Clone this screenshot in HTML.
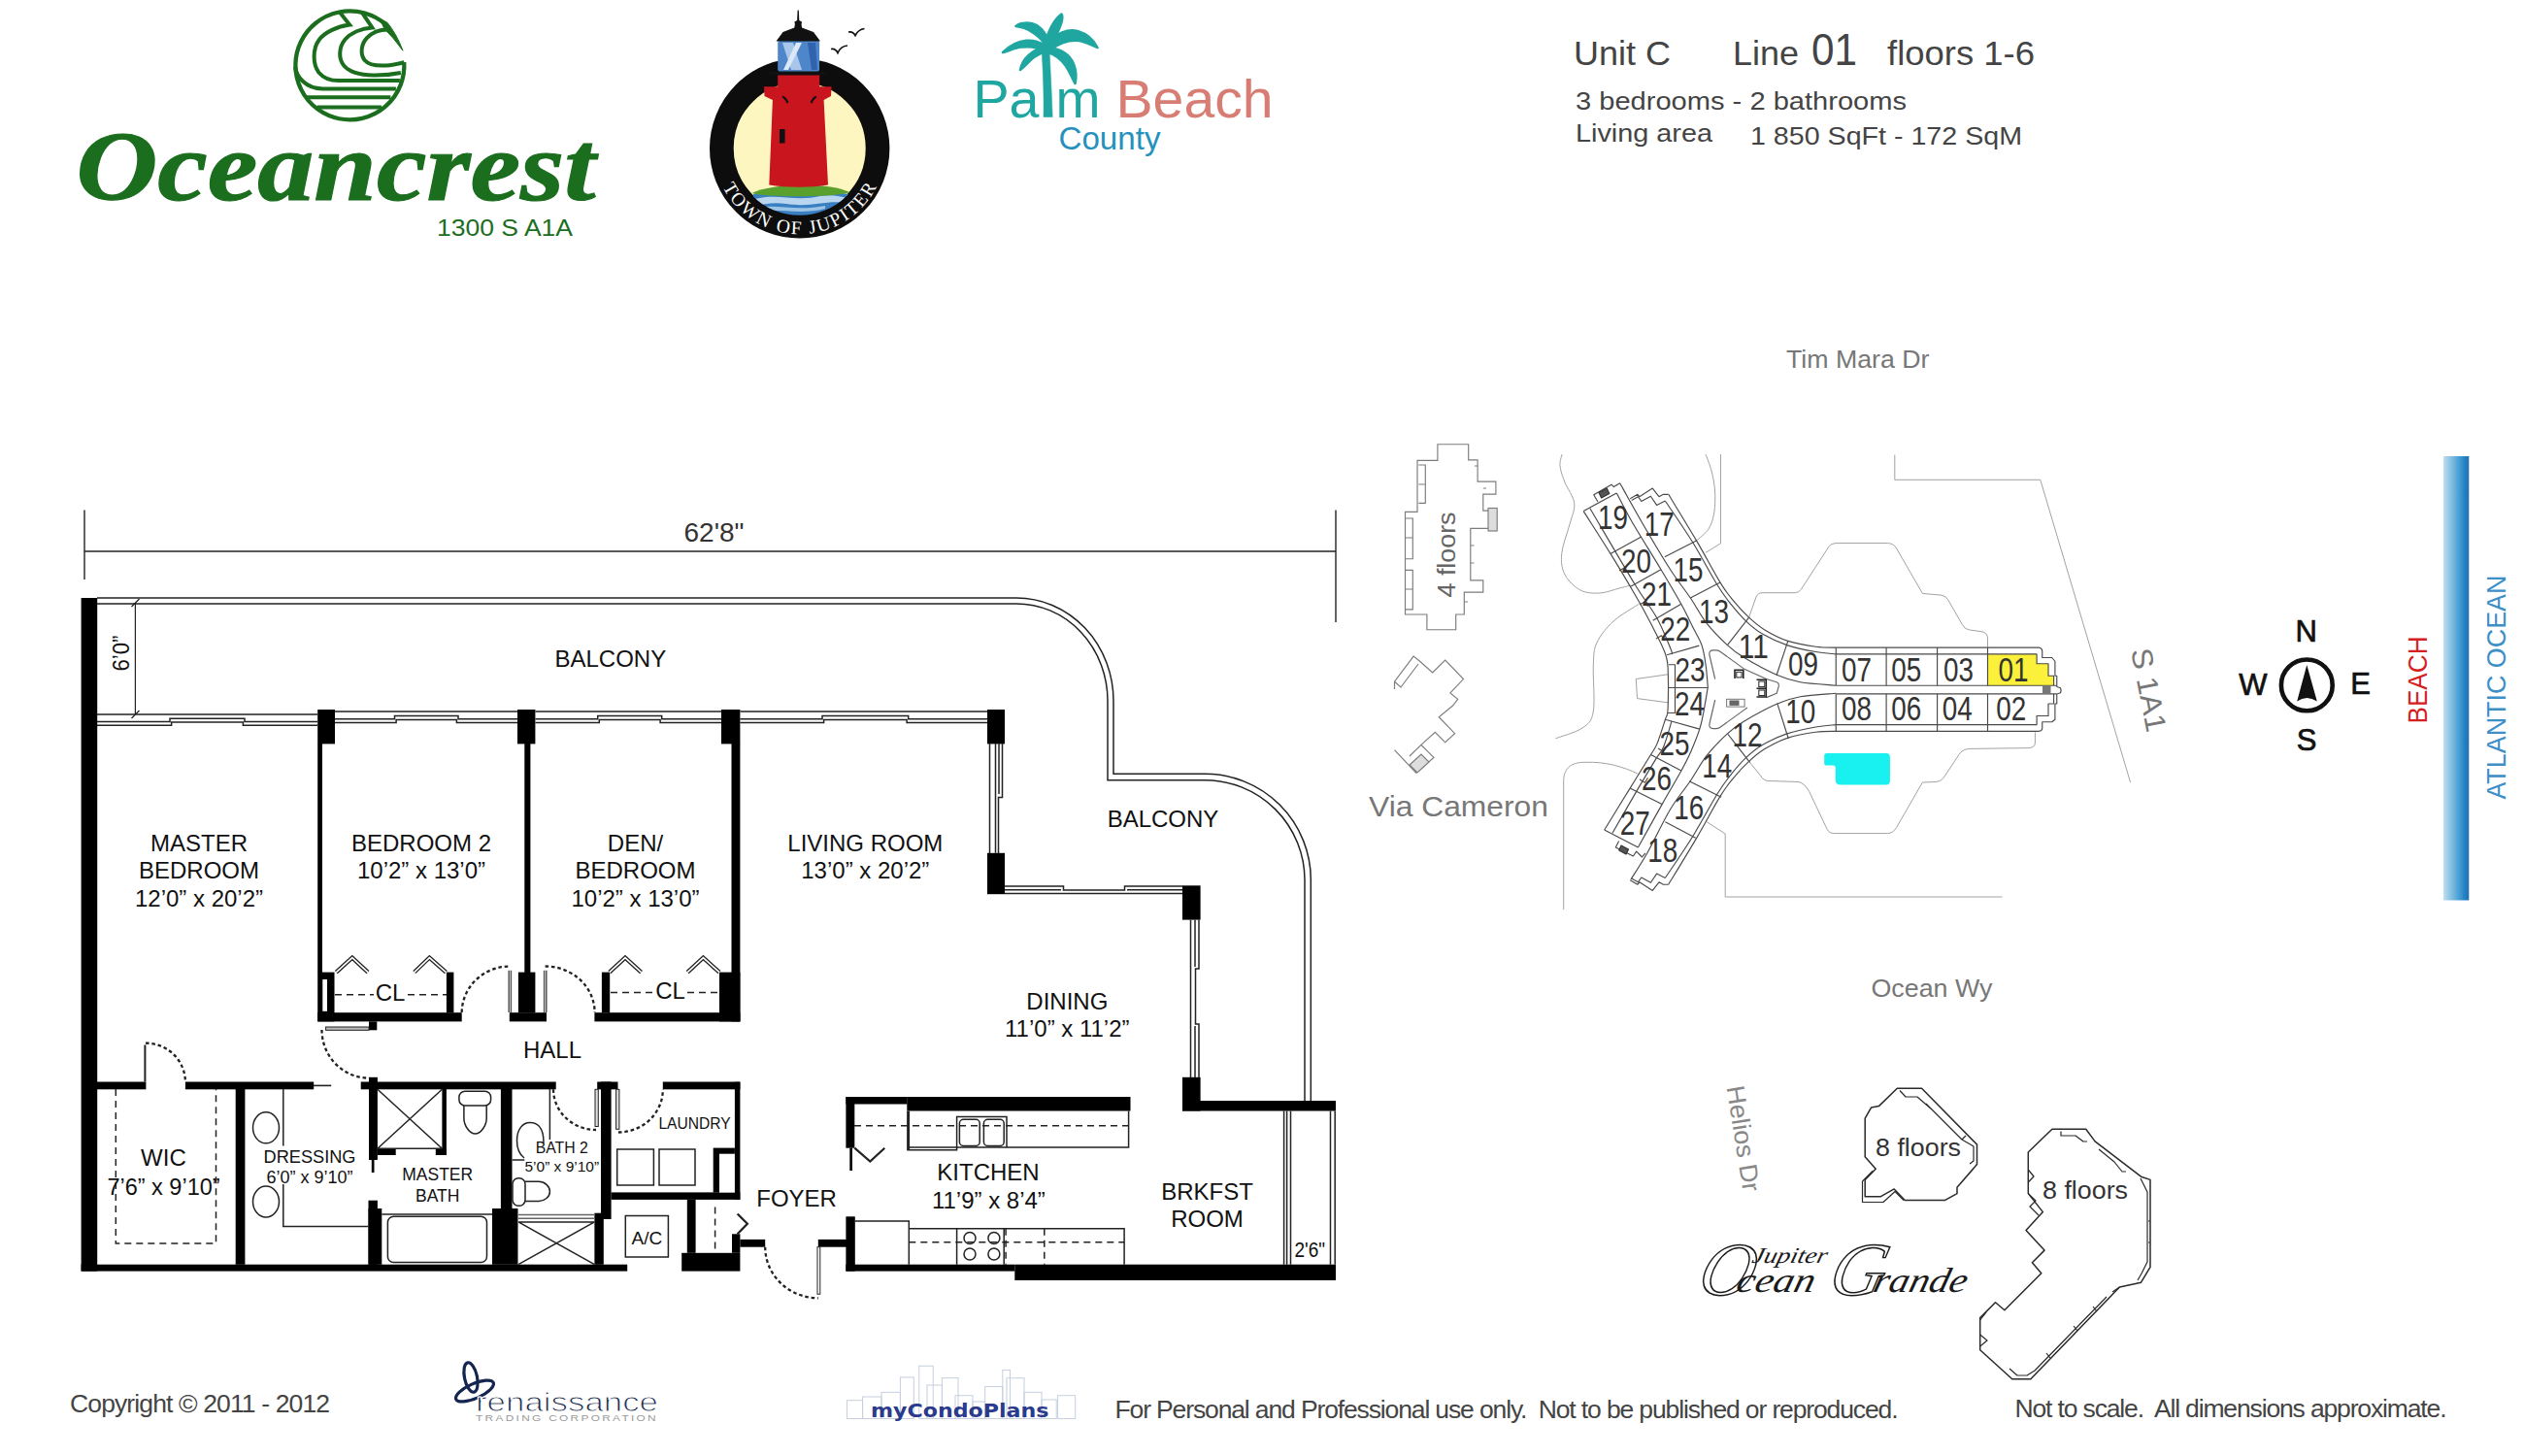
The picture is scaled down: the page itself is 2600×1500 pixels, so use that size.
<!DOCTYPE html>
<html><head><meta charset="utf-8"><title>Oceancrest Unit C Line 01</title>
<style>html,body{margin:0;padding:0;background:#fff}svg{display:block}text{white-space:pre}</style>
</head><body>
<svg width="2600" height="1500" viewBox="0 0 2600 1500">
<rect width="2600" height="1500" fill="#fff"/>

<g id="oc-logo" transform="translate(-1.6,-1.3)" fill="none" stroke="#1b6e1e" stroke-width="4" stroke-linejoin="miter" stroke-miterlimit="8">
  <path d="M417.9,65.5A56,56 0 1 1 398.5,26.2" stroke-width="4.3"/>
  <path d="M393,20.5L400.5,24.5Q410,36 416.6,53.5Q407,40 397.5,31Z" fill="#1b6e1e" stroke-width="1"/>
  <path d="M305.6,70C307,80 316,92.7 334,92.7H409.5"/>
  <path d="M316,101.5H404 M328.5,111.7H394.5"/>
  <path d="M351.5,13.8L361.8,26.9C348,28.5 336,35 330.5,42C323,52 324,68 330,76C336,83 343,84.4 350,84.4H413.5"/>
  <path d="M374,13.5L385,29.7C374,30.5 363,35 357,42C350.5,50 350,62 356,69C362,76 372,78.5 386,78.8C398,79 406,78 414.5,76.3"/>
  <path d="M402.5,31.8C394,31.5 385,34.5 379.5,40.5C373.5,47 372.5,57 377,63C381.5,68.5 390,69.3 399,68.8C406,68.4 412,67 418,65.5"/>
</g>
<text x="78.5" y="206" font-family="'Liberation Serif',serif" font-weight="bold" font-style="italic" font-size="102" fill="#1b6e1e" stroke="#1b6e1e" stroke-width="1.2" textLength="535" lengthAdjust="spacingAndGlyphs">Oceancrest</text>
<text x="450" y="242.5" font-family="'Liberation Sans',sans-serif" font-size="24.5" fill="#1b6e1e" textLength="140" lengthAdjust="spacingAndGlyphs">1300 S A1A</text>

<g id="jupiter">
  <circle cx="823.7" cy="152.8" r="80.35" fill="#fdf6c0" stroke="#0d0d0d" stroke-width="24.7"/>
  <clipPath id="jclip"><circle cx="823.7" cy="152.8" r="69"/></clipPath>
  <g clip-path="url(#jclip)">
    <path d="M776,200C800,196 850,196 874,200L874,232L776,232Z" fill="#3a7fc2"/>
    <path d="M778,205C800,199 820,208 845,202C856,200 866,202 872,204L872,209C850,206 835,214 810,210C798,208 786,210 778,212Z" fill="#b9d6ee"/>
    <path d="M782,214C800,210 820,218 850,212L850,215C825,222 800,214 782,218Z" fill="#9cc4e6"/>
    <path d="M774.5,199C795,189 850,187 875.4,198C865,203 790,204 774.5,199Z" fill="#5aa02c"/>
  </g>
  <path d="M787,89.3L856.6,89.3L856,99L848.6,103L853,190.5C835,193.5 810,193.5 792.3,190.5L795.9,103L787.5,99Z" fill="#c9151e"/>
  <rect x="801.2" y="76" width="43" height="14" fill="#c9151e"/>
  <path d="M792.3,73.6H852.1V77.6H792.3Z" fill="#111"/>
  <rect x="801.2" y="42" width="42.9" height="31.5" rx="2" fill="#4f86c9"/>
  <path d="M806,44L817,44L826,72L815,72Z" fill="#a8c6ea"/><path d="M820,44L826,44L812,72L807,72Z" fill="#dbe8f7"/>
  <path d="M832,44L840,44L842,72L836,72Z" fill="#2f63ad"/>
  <path d="M799.5,42.5L845,42.5L838,33L826,28.5Q825,25 826,22.5L823.3,21L822.8,10.5L821.6,10.5L821.1,21L818.4,22.5Q819.5,25 818.3,28.5L806.5,33Z" fill="#111"/>
  <rect x="803" y="133" width="5.6" height="14.5" fill="#111"/>
  <path d="M806,99.5q3,1 5.5,6.5 M841,99.5q-3,1 -5.5,6.5" stroke="#111" stroke-width="2.2" fill="none"/>
  <path d="M856,50.5q4.5,-1 7,4q3,-7 10,-7.5 M874,33q4.500,-1 7,3.500q3,-6 9.500,-7" stroke="#111" stroke-width="1.7" fill="none"/>
  <path id="jarc" d="M742.2,187.4A88.5,88.5 0 0 0 905.2,187.4" fill="none"/>
  <text font-family="'Liberation Serif',serif" font-size="19.5" fill="#fff"><textPath href="#jarc" startOffset="50%" text-anchor="middle" textLength="196" lengthAdjust="spacing">TOWN OF JUPITER</textPath></text>
</g>

<g id="palm">
  <text x="1002.5" y="120.5" font-family="'Liberation Sans',sans-serif" font-size="56" fill="#1fa6a0" textLength="68" lengthAdjust="spacingAndGlyphs">Pa</text>
  <text x="1087.5" y="120.5" font-family="'Liberation Sans',sans-serif" font-size="56" fill="#1fa6a0" textLength="46" lengthAdjust="spacingAndGlyphs">m</text>
  <text x="1149.5" y="120.5" font-family="'Liberation Sans',sans-serif" font-size="56" fill="#d87d74" textLength="162" lengthAdjust="spacingAndGlyphs">Beach</text>
  <text x="1090.5" y="154.3" font-family="'Liberation Sans',sans-serif" font-size="33.5" fill="#2591bd" textLength="105" lengthAdjust="spacingAndGlyphs">County</text>
  <g fill="#1fa6a0" stroke="#1fa6a0" stroke-width="2.6" stroke-linejoin="round">
    <path stroke-width="0.5" d="M1075,120.5C1075.5,100 1074.5,70 1072.5,44L1080.5,42C1082,70 1083.5,100 1084.2,120.5Z"/>
    <path d="M1076,46C1080,32 1086,20 1093.5,14.5C1096,18 1092,30 1082,47Z"/>
    <path d="M1077,46C1070,36 1058,28 1046.5,27C1050,23 1062,22.5 1068,26C1074,30 1079,38 1081,45Z"/>
    <path d="M1076,47C1066,40 1050,38 1033,54C1040,52 1046,49 1052,48.5C1060,47.5 1068,48 1077,52Z"/>
    <path d="M1075,48C1064,52 1053,60 1051,72C1056,68 1060,63 1065,59C1069,56 1073,54 1078,53Z"/>
    <path d="M1079,45C1088,34 1100,29.5 1110,32C1120,35 1127,42 1130.5,49C1124,46 1118,43 1112,42C1102,40.5 1092,44 1082,51Z"/>
    <path d="M1080,49C1092,50 1102,56 1106,66C1109,74 1109,80 1107.5,86C1104,80 1102,74 1098,68C1093,61 1087,56 1079,54Z"/>
  </g>
</g>

<g fill="#444" font-family="'Liberation Sans',sans-serif">
  <text x="1621" y="66.5" font-size="35.5" textLength="100" lengthAdjust="spacingAndGlyphs">Unit C</text>
  <text x="1785" y="66.5" font-size="35.5" textLength="68" lengthAdjust="spacingAndGlyphs">Line</text>
  <text x="1866" y="67" font-size="45.5" textLength="47" lengthAdjust="spacingAndGlyphs">01</text>
  <text x="1944" y="66.5" font-size="35.5" textLength="152" lengthAdjust="spacingAndGlyphs">floors 1-6</text>
  <text x="1623" y="113" font-size="26.5" textLength="341" lengthAdjust="spacingAndGlyphs">3 bedrooms - 2 bathrooms</text>
  <text x="1623" y="146" font-size="26.5" textLength="141" lengthAdjust="spacingAndGlyphs">Living area</text>
  <text x="1803" y="149" font-size="26.5" textLength="280" lengthAdjust="spacingAndGlyphs">1 850 SqFt - 172 SqM</text>
</g>
<g id="walls">
<rect x="83.6" y="616.0" width="16.6" height="693.6" fill="#000"/>
<rect x="83.6" y="1302.7" width="562.6" height="6.9" fill="#000"/>
<rect x="100.0" y="1114.5" width="50.4" height="7.8" fill="#000"/>
<rect x="190.9" y="1114.5" width="132.3" height="7.8" fill="#000"/>
<rect x="371.7" y="1114.5" width="201.0" height="7.8" fill="#000"/>
<rect x="615.2" y="1114.5" width="21.3" height="7.8" fill="#000"/>
<rect x="682.8" y="1114.5" width="79.6" height="7.8" fill="#000"/>
<rect x="327.2" y="731.0" width="17.8" height="35.4" fill="#000"/>
<rect x="533.0" y="731.0" width="18.4" height="35.4" fill="#000"/>
<rect x="743.0" y="731.0" width="19.4" height="35.4" fill="#000"/>
<rect x="1017.0" y="731.0" width="18.0" height="35.4" fill="#000"/>
<rect x="1017.0" y="878.8" width="18.0" height="42.4" fill="#000"/>
<rect x="1218.0" y="912.3" width="18.6" height="35.3" fill="#000"/>
<rect x="1218.0" y="1109.8" width="18.6" height="34.7" fill="#000"/>
<rect x="327.2" y="766.0" width="4.8" height="236.0" fill="#000"/>
<rect x="540.3" y="766.0" width="6.1" height="236.0" fill="#000"/>
<rect x="753.5" y="766.0" width="8.9" height="286.4" fill="#000"/>
<rect x="327.2" y="1001.6" width="17.3" height="50.8" fill="#000"/>
<rect x="327.2" y="1043.2" width="148.5" height="9.2" fill="#000"/>
<rect x="459.9" y="1001.6" width="7.5" height="41.8" fill="#000"/>
<rect x="533.9" y="1001.6" width="17.5" height="41.8" fill="#000"/>
<rect x="524.8" y="1043.2" width="38.2" height="9.2" fill="#000"/>
<rect x="619.9" y="1001.6" width="8.3" height="41.8" fill="#000"/>
<rect x="612.4" y="1043.2" width="150.0" height="9.2" fill="#000"/>
<rect x="741.0" y="1001.6" width="21.4" height="50.8" fill="#000"/>
<rect x="380.0" y="1052.4" width="8.3" height="8.9" fill="#000"/>
<rect x="380.0" y="1109.8" width="8.9" height="85.2" fill="#000"/>
<rect x="382.8" y="1195.0" width="2.7" height="13.0" fill="#000"/>
<rect x="379.5" y="1236.7" width="9.4" height="66.1" fill="#000"/>
<rect x="379.5" y="1245.0" width="13.8" height="57.8" fill="#000"/>
<rect x="242.7" y="1122.0" width="9.7" height="180.8" fill="#000"/>
<rect x="455.4" y="1122.0" width="4.5" height="68.0" fill="#000"/>
<rect x="388.9" y="1183.0" width="18.8" height="7.0" fill="#000"/>
<rect x="448.8" y="1183.0" width="11.1" height="7.0" fill="#000"/>
<rect x="515.9" y="1122.0" width="11.6" height="123.2" fill="#000"/>
<rect x="507.0" y="1245.0" width="26.5" height="57.8" fill="#000"/>
<rect x="619.0" y="1114.5" width="10.6" height="141.5" fill="#000"/>
<rect x="612.4" y="1249.7" width="9.4" height="53.1" fill="#000"/>
<rect x="756.9" y="1114.7" width="5.5" height="121.2" fill="#000"/>
<rect x="629.6" y="1228.4" width="132.8" height="7.5" fill="#000"/>
<rect x="734.7" y="1182.6" width="22.2" height="46.0" fill="#000"/>
<rect x="707.8" y="1236.0" width="8.8" height="54.8" fill="#000"/>
<rect x="702.2" y="1290.8" width="60.2" height="18.8" fill="#000"/>
<rect x="754.0" y="1271.3" width="8.4" height="19.5" fill="#000"/>
<rect x="762.4" y="1276.9" width="25.8" height="7.8" fill="#000"/>
<rect x="842.8" y="1276.9" width="29.2" height="7.8" fill="#000"/>
<rect x="871.4" y="1253.3" width="9.4" height="56.3" fill="#000"/>
<rect x="871.4" y="1302.7" width="173.9" height="6.9" fill="#000"/>
<rect x="1045.3" y="1302.7" width="330.7" height="16.3" fill="#000"/>
<rect x="871.4" y="1130.0" width="63.1" height="7.5" fill="#000"/>
<rect x="934.3" y="1130.0" width="230.2" height="14.5" fill="#000"/>
<rect x="871.4" y="1130.0" width="8.9" height="52.7" fill="#000"/>
<rect x="875.3" y="1182.7" width="2.7" height="23.3" fill="#000"/>
<rect x="1218.0" y="1134.0" width="158.0" height="10.5" fill="#000"/>
<rect x="332.3" y="1009.0" width="4.7" height="32.8" fill="#fff"/>
<rect x="741.0" y="1188.7" width="15.9" height="39.9" fill="#fff"/>
</g>
<g id="lines" fill="none" stroke="#222" stroke-width="1.5">
<path d="M87,525.5V597 M1376,525.5V641 M87,568H1376" stroke-width="1.4"/>
<path d="M100,616H1047A100,106 0 0 1 1147,722V797.3H1241A109,109 0 0 1 1350.3,906V1134"/>
<path d="M100,621.9H1047A94,100 0 0 1 1141,722V803.7H1241A103,103 0 0 1 1344,906V1134"/>
<path d="M139.4,621V736 M135.5,625l8,-8 M135.5,740l8,-8" stroke-width="1.2"/>
<path d="M100,736H327 M345,733H533 M551.4,733H743 M762.4,733H1017"/>
<path d="M100,743.5H175V740.3H252V743.5H327"/><path d="M100,747.3H176.6V744.1H250.4V747.3H327"/>
<path d="M345,740.8H406.5V737.5999999999999H472V740.8H533"/><path d="M345,744.5999999999999H408.1V741.4H470.4V744.5999999999999H533"/>
<path d="M551.4,740.8H615.7V737.5999999999999H681.7V740.8H743"/><path d="M551.4,744.5999999999999H617.3000000000001V741.4H680.1V744.5999999999999H743"/>
<path d="M762.4,740.8H847V737.5999999999999H935.7V740.8H1017"/><path d="M762.4,744.5999999999999H848.6V741.4H934.1V744.5999999999999H1017"/>
<path d="M1019.5,766V879 M1025.5,766V878.8"/>
<path d="M1032.5,766V821.5H1028.5V879"/><path d="M1029,766V818"/>
<path d="M1035,920.6H1218 M1035,913H1095.5V917H1158.5V913H1218 M1035,916.8H1093 M1161,916.8H1218"/>
<path d="M1226.5,947.6V1110 M1235,947.6V998H1231.5V1055H1235V1110 M1231,947.6V996 M1231,1057V1110"/>
<path d="M1322.6,1144.5V1302.7 M1325.6,1144.5V1302.7 M1329.5,1144.5V1302.7 M1370.5,1144.5V1302.7 M1375.2,1144.5V1302.7"/>
<path d="M346.3,1001.6L362.8,986.6L379,1001.6" stroke-width="4.2" stroke-linejoin="miter"/><path d="M346.3,1001.6L362.8,986.6L379,1001.6" stroke-width="1.6" stroke="#fff" stroke-linejoin="miter"/>
<path d="M426.8,1001.6L442.4,986.6L459.4,1001.6" stroke-width="4.2" stroke-linejoin="miter"/><path d="M426.8,1001.6L442.4,986.6L459.4,1001.6" stroke-width="1.6" stroke="#fff" stroke-linejoin="miter"/>
<path d="M627.8,1001.6L644,986.6L660.5,1001.6" stroke-width="4.2" stroke-linejoin="miter"/><path d="M627.8,1001.6L644,986.6L660.5,1001.6" stroke-width="1.6" stroke="#fff" stroke-linejoin="miter"/>
<path d="M708.2,1001.6L724.4,986.6L741,1001.6" stroke-width="4.2" stroke-linejoin="miter"/><path d="M708.2,1001.6L724.4,986.6L741,1001.6" stroke-width="1.6" stroke="#fff" stroke-linejoin="miter"/>
<path d="M345,1024.7H385 M420,1024.7H460" stroke-dasharray="7,5"/>
<path d="M629,1022.4H672 M708,1022.4H741" stroke-dasharray="7,5"/>
<path d="M524.2,999.7V1043 M526.4,999.7V1043 M560.6,999.7V1043 M562.8,999.7V1043" stroke="#555"/>
<path d="M475.7,1043A49.5,48 0 0 1 525.2,995.5" stroke-dasharray="3.6,2.8" stroke-width="2.3"/>
<path d="M561.6,995.5A51,47.5 0 0 1 612.6,1043" stroke-dasharray="3.6,2.8" stroke-width="2.3"/>
<rect x="335.6" y="1058" width="44.4" height="3.3" fill="#bbb" stroke="#222" stroke-width="1"/>
<path d="M331.5,1061A48.5,49.6 0 0 0 380,1110.6" stroke-dasharray="3.6,2.8" stroke-width="2.3"/>
<path d="M323,1118.4H341.2" stroke-width="1.6"/>
<path d="M149.4,1076.5V1114.5" stroke-width="2"/>
<path d="M150,1074.6A41,40 0 0 1 190.9,1114.5" stroke-dasharray="3.6,2.8" stroke-width="2.3"/>
<path d="M119.3,1122V1281H222.5V1122" stroke-dasharray="7,5"/>
<ellipse cx="274" cy="1161.8" rx="13.5" ry="16"/><ellipse cx="274" cy="1238" rx="13.5" ry="16"/>
<path d="M291.8,1122V1180.4 M291.8,1220V1263.6H379.5"/>
<path d="M388.9,1122.3L455.4,1183.3 M455.4,1122.3L388.9,1183.3 M388.9,1183.3H455.4"/>
<rect x="472.9" y="1124.2" width="32.7" height="14.7" rx="6" ry="6"/>
<path d="M477.9,1139V1152C477.9,1160 484,1168 489.5,1168C495,1168 501.2,1160 501.2,1152V1139"/>
<path d="M393.3,1251H507"/><rect x="399.4" y="1253.3" width="102.1" height="47.2" rx="6"/>
<path d="M566.4,1122V1174 M527.5,1195H540.3"/>
<path d="M560,1177C560,1160 552,1156.5 546,1156.5C538,1156.5 532.5,1164 532.5,1175C532.5,1184 536,1190 540,1193"/>
<rect x="528" y="1213.7" width="13" height="28.5" rx="6"/>
<path d="M541,1217.3H555C561,1217.3 566.4,1222 566.4,1227.4C566.4,1233 561,1237.5 555,1237.5H541"/>
<path d="M534,1258.9H612.4 M534,1258.9L612.4,1302.7 M612.4,1258.9L534,1302.7"/>
<path d="M534,1251.6H612 M534,1255.3H612" stroke="#666"/>
<rect x="613" y="1122.3" width="3.3" height="38.2" fill="#ddd" stroke="#222" stroke-width="1"/>
<path d="M570,1122.3A44,42 0 0 0 614,1164" stroke-dasharray="3.6,2.8" stroke-width="2.3"/>
<rect x="634.6" y="1122.3" width="3.3" height="41" fill="#ddd" stroke="#222" stroke-width="1"/>
<path d="M637,1166.5A45.8,44 0 0 0 682.8,1122.3" stroke-dasharray="3.6,2.8" stroke-width="2.3"/>
<rect x="635.7" y="1184" width="37.7" height="37"/><rect x="679" y="1184" width="37" height="37"/>
<rect x="644.3" y="1252.5" width="44.1" height="42.5"/>
<path d="M736.6,1243.6V1290" stroke-dasharray="7,5"/>
<path d="M759.6,1250.5L769.9,1260.8L759.6,1271.3" stroke-width="2.2"/>
<rect x="842" y="1284.7" width="2.8" height="48.5" fill="#fff" stroke="#222" stroke-width="1"/>
<path d="M788.2,1284.7A54.6,52.6 0 0 0 842.8,1337.3" stroke-dasharray="3.6,2.8" stroke-width="2.3"/>
<path d="M1162.6,1144.5V1181.9H937 M934.3,1184.7H985.6V1150.6H1037V1181.9"/>
<path d="M935.6,1144.5V1184.7" stroke-width="3"/>
<path d="M880,1159.7H1162.6" stroke-dasharray="7,5"/>
<rect x="988.4" y="1153.3" width="20.8" height="27.2" rx="4"/><rect x="1013.4" y="1153.3" width="20.8" height="27.2" rx="4"/>
<path d="M880.3,1182.7L896.3,1196.6L911.3,1182.7" stroke-width="2.2"/>
<path d="M880.8,1258H936.3V1302.7 M936.3,1265.8H1158.1V1302.7 M985.6,1265.8V1302.7 M1034.2,1265.8V1302.7"/>
<path d="M936.3,1279.7H1158.1 M1036.1,1265.8V1302.7 M1075.8,1265.8V1302.7" stroke-dasharray="7,5"/>
<circle cx="999" cy="1275.5" r="6"/>
<circle cx="999" cy="1292" r="6"/>
<circle cx="1023.9" cy="1275.5" r="6"/>
<circle cx="1023.9" cy="1292" r="6"/>
</g>
<g id="plantext" font-family="'Liberation Sans',sans-serif" fill="#111" text-anchor="middle">
<text x="735.5" y="558.2" font-size="28" fill="#333">62'8"</text>
<text transform="translate(132.5,673) rotate(-90)" font-size="24" textLength="37" lengthAdjust="spacingAndGlyphs">6&#8217;0&#8221;</text>
<text x="628.8" y="687" font-size="24" >BALCONY</text>
<text x="1198" y="852" font-size="24" >BALCONY</text>
<text x="205" y="876.8" font-size="24" >MASTER</text>
<text x="205" y="905.4" font-size="24" >BEDROOM</text>
<text x="205" y="934.3" font-size="24" >12&#8217;0&#8221; x 20&#8217;2&#8221;</text>
<text x="434" y="876.8" font-size="24" >BEDROOM 2</text>
<text x="434" y="905.4" font-size="24" >10&#8217;2&#8221; x 13&#8217;0&#8221;</text>
<text x="654.5" y="876.8" font-size="24" >DEN/</text>
<text x="654.5" y="905.4" font-size="24" >BEDROOM</text>
<text x="654.5" y="934.3" font-size="24" >10&#8217;2&#8221; x 13&#8217;0&#8221;</text>
<text x="891.3" y="876.8" font-size="24" >LIVING ROOM</text>
<text x="891.3" y="905.4" font-size="24" >13&#8217;0&#8221; x 20&#8217;2&#8221;</text>
<text x="1099.3" y="1039.6" font-size="24" >DINING</text>
<text x="1099.3" y="1068.2" font-size="24" >11&#8217;0&#8221; x 11&#8217;2&#8221;</text>
<text x="402" y="1030.5" font-size="24" >CL</text>
<text x="690.6" y="1028.5" font-size="24" >CL</text>
<text x="569" y="1089.6" font-size="24" >HALL</text>
<text x="168.4" y="1200.6" font-size="24" >WIC</text>
<text x="168.5" y="1231" font-size="23.5" >7&#8217;6&#8221; x 9&#8217;10&#8221;</text>
<text x="319" y="1197.9" font-size="18.2" >DRESSING</text>
<text x="319" y="1218.7" font-size="18" >6&#8217;0&#8221; x 9&#8217;10&#8221;</text>
<text x="450.7" y="1216.4" font-size="17.5" >MASTER</text>
<text x="450.7" y="1238" font-size="17.5" >BATH</text>
<text x="578.8" y="1188.3" font-size="15.8" >BATH 2</text>
<text x="578.8" y="1206.9" font-size="15.5" >5&#8217;0&#8221; x 9&#8217;10&#8221;</text>
<text x="715.5" y="1162.5" font-size="15.6" >LAUNDRY</text>
<text x="666.3" y="1281.9" font-size="19" >A/C</text>
<text x="820.6" y="1243" font-size="24" >FOYER</text>
<text x="1018" y="1215.6" font-size="24" >KITCHEN</text>
<text x="1018.4" y="1245" font-size="24" >11&#8217;9&#8221; x 8&#8217;4&#8221;</text>
<text x="1243.5" y="1235.9" font-size="24" >BRKFST</text>
<text x="1243.5" y="1264.4" font-size="24" >ROOM</text>
<text x="1349.3" y="1295" font-size="22.5" textLength="31.5" lengthAdjust="spacingAndGlyphs">2'6"</text>
</g>
<g id="sitelines" fill="none" stroke="#a2a2a2" stroke-width="1">
<path d="M1951.8,468.6V494.3H2101.8L2194.6,806.1" />
<path d="M1772.5,468V559.8L1757,569.4" />
<path d="M1609.0,468.0C1608.7,470.0 1606.5,475.2 1607.0,480.0C1607.5,484.8 1609.5,490.6 1612.0,497.0C1614.5,503.4 1620.9,511.1 1621.7,518.3C1622.5,525.5 1619.2,531.3 1617.0,540.0C1614.8,548.7 1609.5,561.7 1608.7,570.4C1607.9,579.1 1608.8,585.7 1612.0,592.0C1615.2,598.3 1622.0,604.8 1628.0,608.0C1634.0,611.2 1641.3,611.3 1648.0,611.0C1654.7,610.7 1662.7,607.3 1668.0,606.0C1673.3,604.7 1678.0,603.5 1680.0,603.0" />
<path d="M1757.0,468.0C1758.0,470.8 1761.4,478.8 1763.0,485.0C1764.6,491.2 1766.0,497.8 1766.5,505.0C1767.0,512.2 1766.9,521.3 1765.8,528.0C1764.7,534.7 1763.0,540.2 1760.0,545.0C1757.0,549.8 1749.6,555.0 1747.5,557.0" />
<path d="M1688.4,622.2C1684.0,625.2 1669.2,633.4 1662.0,640.0C1654.8,646.6 1648.5,654.5 1645.0,662.0C1641.5,669.5 1641.9,673.2 1641.3,685.0C1640.7,696.8 1643.2,722.2 1641.3,733.0C1639.4,743.8 1636.5,745.4 1630.0,750.0C1623.5,754.6 1607.0,759.0 1602.4,760.8" />
<path d="M1718,694.8L1685.3,699.5L1686.5,719.6L1718,723.8" />
<path d="M1610.7,937V805C1610.7,790 1620,785.5 1632,785.3C1655,784.5 1672,790 1687.4,797.3" />
<path d="M1758.2,846.7L1777.2,859V924H2062.5" />
<path d="M1801.6,636.1L1809,615C1810.5,612 1812,610.7 1816,610.7H1849.2Q1853,610.7 1855.5,607L1883.9,563.2Q1886.5,559.6 1891,559.6H1944.6Q1950.5,559.6 1953.6,565L1980.4,611.4L2000,613.2Q2005,614 2007.1,618.6L2021.4,643.6Q2024,648.5 2028.6,648.9L2041,650.7Q2047.5,651.5 2047.5,657.9V666.8" />
<path d="M2096.4,754.3V765Q2096.4,770.4 2089.3,770.6L2028.6,771.4Q2021,772 2017.9,777.5L2003,800Q2000,805 1994,805.5L1980.4,806L1953.6,852.5Q1950,858.6 1944.6,858.6H1889.3Q1884.5,858.6 1882.1,854.3L1863.7,815.4Q1858,805.8 1852.2,805.5L1822,804.5Q1816.5,804.5 1813.5,799L1802.7,785.7" />
</g>
<path d="M1879.2,778.5Q1879.2,776 1881.7,776H1943Q1946.9,776 1946.9,780V804.5Q1946.9,808.5 1943,808.5H1896Q1890.8,808.5 1890.8,803.5V791Q1890.8,788.6 1888,788.6H1881.7Q1879.2,788.6 1879.2,786Z" fill="#19f0f0"/>
<path d="M2047.5,674H2098.1V683.75H2110V696.25H2115.6V706.25H2047.5Z" fill="#fbf03a"/>
<g id="bldg" fill="none" stroke="#4a4a4a" stroke-width="1.15" stroke-linejoin="round">
<path d="M1718.7,509.3C1723.5,517.2 1738.6,541.8 1747.5,556.9C1756.4,572.0 1765.6,589.7 1772.0,600.1C1778.4,610.5 1780.9,613.1 1785.8,619.1C1790.7,625.1 1796.3,631.2 1801.6,636.1C1806.9,641.0 1810.8,644.7 1817.5,648.7C1824.2,652.8 1833.0,657.5 1841.8,660.4C1850.6,663.3 1862.2,665.1 1870.4,666.2C1878.6,667.3 1887.6,667.0 1891.0,667.1" />
<path d="M1718.7,911.2C1723.5,903.3 1738.6,878.7 1747.5,863.6C1756.4,848.5 1765.6,830.8 1772.0,820.4C1778.4,810.0 1780.9,807.4 1785.8,801.4C1790.7,795.4 1796.3,789.3 1801.6,784.4C1806.9,779.5 1810.8,775.8 1817.5,771.8C1824.2,767.8 1833.0,763.0 1841.8,760.1C1850.6,757.2 1862.2,755.4 1870.4,754.3C1878.6,753.2 1887.6,753.5 1891.0,753.4" />
<path d="M1715.3,516.0C1720.0,523.1 1734.8,544.4 1743.7,558.8C1752.6,573.2 1762.4,591.8 1768.8,602.2C1775.2,612.6 1777.0,614.9 1782.0,621.2C1787.0,627.5 1792.9,634.5 1798.5,639.8C1804.1,645.1 1808.4,648.9 1815.4,653.0C1822.5,657.1 1831.6,661.5 1840.8,664.6C1850.0,667.7 1862.0,670.0 1870.4,671.5C1878.8,673.0 1887.6,673.5 1891.0,673.9" />
<path d="M1715.3,904.5C1720.0,897.4 1734.8,876.1 1743.7,861.7C1752.6,847.3 1762.4,828.7 1768.8,818.3C1775.2,807.9 1777.0,805.6 1782.0,799.3C1787.0,793.0 1792.9,786.0 1798.5,780.7C1804.1,775.4 1808.4,771.6 1815.4,767.5C1822.5,763.4 1831.6,759.0 1840.8,755.9C1850.0,752.8 1862.0,750.5 1870.4,749.0C1878.8,747.5 1887.6,747.0 1891.0,746.6" />
<path d="M1668.7,497.8C1672.5,504.6 1683.1,523.9 1691.7,538.7C1700.3,553.5 1712.3,573.8 1720.6,586.7C1728.9,599.6 1735.0,606.7 1741.3,616.0C1747.6,625.3 1751.9,634.3 1758.3,642.4C1764.7,650.5 1773.1,658.8 1779.4,664.6C1785.7,670.4 1787.8,672.2 1796.3,677.3C1804.8,682.4 1820.5,691.1 1830.2,695.3C1839.9,699.5 1844.3,700.9 1854.5,702.7C1864.7,704.5 1885.3,705.6 1891.5,706.2" />
<path d="M1680.0,906.0C1682.9,901.3 1690.5,890.0 1697.3,878.0C1704.1,866.0 1713.3,846.0 1720.6,833.8C1727.9,821.5 1735.0,813.8 1741.3,804.5C1747.6,795.2 1751.9,786.2 1758.3,778.1C1764.7,770.0 1773.1,761.7 1779.4,755.9C1785.7,750.1 1787.8,748.3 1796.3,743.2C1804.8,738.1 1820.5,729.4 1830.2,725.2C1839.9,721.0 1844.3,719.6 1854.5,717.8C1864.7,716.0 1885.3,714.9 1891.5,714.3" />
<path d="M1665.3,507.9C1668.0,512.9 1673.6,524.6 1681.2,537.7C1688.8,550.8 1702.6,572.6 1711.0,586.7C1719.4,600.8 1726.4,612.5 1731.8,622.3C1737.2,632.1 1740.0,638.5 1743.5,645.6C1747.0,652.7 1750.7,657.9 1753.0,664.6C1755.3,671.3 1756.2,678.6 1757.2,685.8C1758.2,693.0 1759.0,704.3 1759.3,708.0" />
<path d="M1631.2,526.6C1635.8,533.9 1650.9,557.3 1659.0,570.4C1667.1,583.5 1674.6,596.2 1680.0,605.4C1685.4,614.6 1687.7,618.5 1691.6,625.5C1695.5,632.5 1699.9,641.2 1703.3,647.7C1706.7,654.2 1709.6,660.0 1711.7,664.6C1713.8,669.2 1715.0,671.7 1716.0,675.2C1717.0,678.7 1717.6,680.3 1718.0,685.8C1718.4,691.3 1718.5,704.3 1718.6,708.0" />
<path d="M1637.9,523.8C1645.6,536.8 1672.8,583.5 1684.2,602.2C1695.6,620.9 1700.3,625.1 1706.4,636.0C1712.5,646.9 1718.1,661.4 1720.7,667.8C1723.3,674.1 1722.0,673.0 1722.3,674.1" />
<path d="M1759.3,708.0C1758.6,712.2 1756.4,725.8 1755.0,733.0C1753.6,740.2 1753.0,744.2 1750.8,751.1C1748.6,758.0 1744.9,767.1 1741.8,774.2C1738.7,781.4 1736.9,784.9 1731.9,794.0C1727.0,803.1 1719.5,815.4 1712.1,828.6C1704.7,841.8 1691.5,865.6 1687.4,873.0" />
<path d="M1718.6,708.0C1718.5,712.2 1718.4,727.5 1717.9,733.0C1717.4,738.5 1717.2,735.7 1715.4,741.2C1713.6,746.7 1709.6,759.9 1707.1,765.9C1704.6,771.9 1705.2,769.8 1700.5,777.5C1695.8,785.2 1687.1,799.2 1679.1,812.1C1671.1,825.0 1657.1,847.9 1652.7,855.0" />
<path d="M1722.0,742.9C1720.6,747.3 1716.5,762.6 1713.7,769.2C1711.0,775.8 1710.2,774.7 1705.5,782.4C1700.8,790.1 1693.1,802.8 1685.7,815.4C1678.3,828.0 1665.1,851.1 1661.0,858.2" />
<path d="M1891,667.1H2100Q2103.75,667.5 2103.75,671.25V677.5H2113.75L2116.9,681.25V696.25H2118.75V707.5L2122.5,708.75L2123.1,711.25L2122.5,713.75L2118.75,715V725H2116.9V741.25L2113.75,743.75H2103.75V750Q2103.75,753 2100,753.4H1891" />
<path d="M1891,673.9H2098.1V683.75H2110V696.25H2115.6V706.25" />
<path d="M1891,746.6H2098.1V737.5H2110V725H2115.6V715" />
<path d="M1891.5,706.25H2118.5 M1891.5,714.8H2118.5" />
<path d="M1891.25,667.1V706.25 M1891.25,714.8V753.4" />
<path d="M1943.1,667.1V706.25 M1943.1,714.8V753.4" />
<path d="M1995.6,667.1V706.25 M1995.6,714.8V753.4" />
<path d="M2047.5,667.1V706.25 M2047.5,714.8V753.4" />
<path d="M1659.0,570.4L1690.8,553.0" />
<path d="M1680.2,604.0L1711.0,586.7" />
<path d="M1702.7,639.2L1731.8,622.3" />
<path d="M1717.0,674.7L1750.3,665.1" />
<path d="M1719.0,708.5L1759.3,708.5" />
<path d="M1714.8,573.8L1747.5,556.9" />
<path d="M1741.3,616.0L1772.0,600.1" />
<path d="M1779.4,664.6L1801.6,636.1" />
<path d="M1830.2,695.3L1841.8,660.4" />
<path d="M1830.8,724.7L1842.3,761.0" />
<path d="M1779.7,756.0L1802.7,785.7" />
<path d="M1740.1,804.7L1773.1,821.2" />
<path d="M1715.4,846.7L1746.7,863.2" />
<path d="M1715.4,741.2L1750.8,751.1" />
<path d="M1700.5,777.5L1731.9,794.0" />
<path d="M1679.1,812.1L1712.1,828.6" />
<path d="M1652.7,855.0L1687.4,873.0" />
<path d="M1719,684.7H1725.5V734.5H1718" />
<path d="M1668,588l5.5,-3.2l3,5" />
<path d="M1689,623l5.5,-3.2l3,5" />
<path d="M1706,658l5.5,-3.2l3,5" />
<path d="M1708,771l5.5,3.2l3,-5" />
<path d="M1689,803l5.5,3.2l3,-5" />
<path d="M1631.2,526.6L1665.3,507.9" />
<path d="M1646.0,517.0L1641.7,509.8L1660.0,499.2L1662.4,501.6L1668.7,497.8" />
<path d="M1647.0,507.4L1655.2,503.1L1657.8,508.6L1649.6,512.9Z" fill="#555" stroke="#333"/>
<path d="M1679.2,513.7L1686.9,509.3L1688.8,511.7L1702.3,503.1L1709.0,511.7L1713.4,509.3L1718.7,509.3" />
<path d="M1680.7,515.6L1687.4,511.7L1690.8,516.5L1700.4,511.2L1706.6,520.4L1715.3,516.0" />
<path d="M1679.2,906.8L1686.9,911.2L1688.8,908.8L1702.3,917.4L1709.0,908.8L1713.4,911.2L1718.7,911.2" />
<path d="M1680.7,904.9L1687.4,908.8L1690.8,904.0L1700.4,909.2L1706.6,900.1L1715.3,904.5" />
<path d="M1667.6,866.5L1664.3,873.0L1682.4,882.0L1685.7,877.2L1691.5,883.0L1694.8,878.9" />
<path d="M1670.0,871.0L1677.5,875.0L1675.0,880.0L1667.8,876.0Z" fill="#555" stroke="#333"/>
<path d="M1766.7,699.5L1761,675Q1760,669.9 1765,669.9H1768Q1770.5,669.9 1773,672L1796.3,688.9L1819.6,699.5L1830.2,702.7Q1832.8,703.5 1832.3,706.9L1830.2,714.3L1819.6,718.6" stroke="#666"/>
<path d="M1766.7,721L1761,745.5Q1760,750.6 1765,750.6H1768Q1770.5,750.6 1773,748.5L1796.3,731.6L1800,729" stroke="#666"/>
</g>
<g fill="none" stroke="#222" stroke-width="1.6">
<path d="M1787,699V690.3H1795.8V699"/><rect x="1788.8" y="692.3" width="5.2" height="5.6" stroke-width="1"/>
<path d="M1809.5,700.3H1819.3V718H1809.5 M1809.5,709.2H1819.3"/><rect x="1811.8" y="702" width="6" height="5.6" stroke-width="1"/><rect x="1811.8" y="711" width="6" height="5.6" stroke-width="1"/>
<rect x="1778.6" y="720.3" width="18.5" height="7.8" stroke="#777" stroke-width="1"/><rect x="1781.5" y="721.5" width="10" height="5.4" fill="#666" stroke="none"/>
<rect x="2104" y="706.6" width="8.5" height="8" fill="#777" stroke="none"/>
</g>
<g id="nums" font-family="'Liberation Sans',sans-serif" font-size="35" fill="#333" text-anchor="middle">
<text x="1661.5" y="544.7" textLength="31" lengthAdjust="spacingAndGlyphs">19</text>
<text x="1709.2" y="552.2" textLength="31" lengthAdjust="spacingAndGlyphs">17</text>
<text x="1685.6" y="589.7" textLength="31" lengthAdjust="spacingAndGlyphs">20</text>
<text x="1738.9" y="598.5" textLength="31" lengthAdjust="spacingAndGlyphs">15</text>
<text x="1706.4" y="623.5" textLength="31" lengthAdjust="spacingAndGlyphs">21</text>
<text x="1765.5" y="641.8" textLength="31" lengthAdjust="spacingAndGlyphs">13</text>
<text x="1725.8" y="660.4" textLength="31" lengthAdjust="spacingAndGlyphs">22</text>
<text x="1806.3" y="677.9" textLength="31" lengthAdjust="spacingAndGlyphs">11</text>
<text x="1741.1" y="702.0" textLength="31" lengthAdjust="spacingAndGlyphs">23</text>
<text x="1857.6" y="696.4" textLength="31" lengthAdjust="spacingAndGlyphs">09</text>
<text x="1912.5" y="702.0" textLength="31" lengthAdjust="spacingAndGlyphs">07</text>
<text x="1963.8" y="702.0" textLength="31" lengthAdjust="spacingAndGlyphs">05</text>
<text x="2017.6" y="702.0" textLength="31" lengthAdjust="spacingAndGlyphs">03</text>
<text x="2073.9" y="702.0" textLength="31" lengthAdjust="spacingAndGlyphs">01</text>
<text x="1740.5" y="736.8" textLength="31" lengthAdjust="spacingAndGlyphs">24</text>
<text x="1854.8" y="745.4" textLength="31" lengthAdjust="spacingAndGlyphs">10</text>
<text x="1912.5" y="741.8" textLength="31" lengthAdjust="spacingAndGlyphs">08</text>
<text x="1963.8" y="741.8" textLength="31" lengthAdjust="spacingAndGlyphs">06</text>
<text x="2016.2" y="741.8" textLength="31" lengthAdjust="spacingAndGlyphs">04</text>
<text x="2071.7" y="741.8" textLength="31" lengthAdjust="spacingAndGlyphs">02</text>
<text x="1799.9" y="768.7" textLength="31" lengthAdjust="spacingAndGlyphs">12</text>
<text x="1725" y="777.9" textLength="31" lengthAdjust="spacingAndGlyphs">25</text>
<text x="1768.8" y="800.9" textLength="31" lengthAdjust="spacingAndGlyphs">14</text>
<text x="1706.4" y="813.9" textLength="31" lengthAdjust="spacingAndGlyphs">26</text>
<text x="1739.7" y="844.4" textLength="31" lengthAdjust="spacingAndGlyphs">16</text>
<text x="1684.2" y="859.7" textLength="31" lengthAdjust="spacingAndGlyphs">27</text>
<text x="1712.8" y="888.0" textLength="31" lengthAdjust="spacingAndGlyphs">18</text>
</g>
<g fill="none" stroke="#7c7c7c" stroke-width="1.15">
<path d="M1480.9,457.7L1512.7,457.7L1512.7,473.9L1522.1,473.9L1522.1,496.1L1540.9,496.1L1540.9,509.1L1527.8,509.1L1527.8,526.1L1534.3,526.1L1534.3,544.3L1514.8,544.3L1514.8,597.8L1527.8,597.8L1527.8,610.1L1508.3,610.1L1508.3,633.0L1499.7,633.0L1499.7,648.7L1469.9,648.7L1469.9,633.0L1447.5,633.0L1447.5,527.4L1460.0,527.4L1460.0,474.4L1480.9,474.4Z" />
<path d="M1447.5,534H1455.3V575.7H1447.5 M1447.5,587.4H1455.3V627.8H1447.5 M1461.3,479H1468.3V518.3H1461.3 M1447.5,554H1455.3 M1447.5,607H1455.3 M1461.3,499H1468.3" />
<rect x="1533" y="523.5" width="9.2" height="23.5" fill="#ddd"/>
<path d="M1514.8,562H1518.5 M1514.8,580H1518.5 M1522.1,480H1519 M1508.3,620H1512 M1527.8,503H1531" />
<path d="M1436.5,710.0L1436.5,702.2L1456.1,676.1L1462.6,681.3L1475.7,693.0L1488.7,680.0L1507.5,699.6L1493.9,713.9L1501.7,720.4L1496.5,727.0L1482.2,738.7L1498.6,755.7L1488.7,764.8L1478.3,754.3L1463.9,767.4L1470.4,773.9L1477.0,780.4L1458.7,796.1L1436.5,772.6" />
<path d="M1436.5,702.2L1443,708L1461,684 M1463.9,767.4L1452,779" />
<path d="M1452,788L1464,777L1472,785L1460,796Z" fill="#ddd"/>
</g>
<g fill="none" stroke="#2a2a2a" stroke-width="1.5" stroke-linejoin="round">
<path d="M1954.3,1121.2L1979.6,1121.2L2036.5,1179.1L2036.5,1199.6L2016.0,1223.3L2016.0,1229.6L2003.3,1236.6L1962.2,1236.6L1951.2,1224.9L1937.0,1232.8L1921.2,1232.8L1921.2,1215.4L1932.2,1204.3L1921.2,1191.7L1921.2,1152.2L1927.5,1141.1L1935.4,1139.6Z" />
<path d="M1957,1123.5L1963,1130H1975L1990,1143 M1984,1137L2021,1174L2033,1181V1196L2029,1199 M1918.5,1217L1929,1206.5 M1918.5,1217V1238.5H1940L1952,1227.5L1961,1236.6 M2021,1174L2025,1170" stroke-width="1.2"/>
<path d="M2113.9,1163.3L2148.7,1163.3L2158.1,1175.9L2205.5,1212.2L2215.0,1215.4L2215.0,1305.4L2205.5,1321.2L2183.4,1326.0L2091.8,1420.8L2072.8,1420.8L2039.7,1390.8L2039.7,1357.6L2055.5,1341.8L2064.9,1349.7L2102.8,1311.8L2093.4,1300.7L2106.0,1288.1L2087.0,1267.5L2104.4,1248.6L2089.3,1229.6L2089.3,1187.0Z" />
<path d="M2123,1165.5V1170H2138L2146,1176L2150,1176 M2162,1184L2178,1197L2186,1207L2190,1207 M2205,1214L2212,1228V1300L2206,1312L2202,1319 M2213,1258H2215 M2213,1280H2215 M2183.4,1326L2176,1331 M2170,1336L2096,1412L2088,1417H2078L2070,1410 M2140,1371L2136,1366 M2160,1351L2156,1346 M2112,1399L2108,1394 M2039.7,1375L2047,1381L2039.7,1387 M2039.7,1360L2046,1352 M2089.3,1205L2095,1212L2089.3,1218 M2089.3,1229.6L2097,1237L2091,1243L2100,1252" stroke-width="1.2"/>
</g>
<g font-family="'Liberation Sans',sans-serif" fill="#777">
<text x="1840" y="378.5" font-size="26.5" textLength="147.5" lengthAdjust="spacingAndGlyphs">Tim Mara Dr</text>
<text x="1410" y="840.7" font-size="30" textLength="185" lengthAdjust="spacingAndGlyphs">Via Cameron</text>
<text x="1927.5" y="1026.8" font-size="26" textLength="125" lengthAdjust="spacingAndGlyphs">Ocean Wy</text>
<text transform="translate(1498.5,615.5) rotate(-90)" font-size="26.5" textLength="88" lengthAdjust="spacingAndGlyphs" fill="#666">4 floors</text>
<text transform="translate(2195,670) rotate(79)" font-size="30" textLength="87" lengthAdjust="spacingAndGlyphs">S 1A1</text>
<text transform="translate(1778.5,1120) rotate(81)" font-size="26" textLength="110" lengthAdjust="spacingAndGlyphs" fill="#888">Helios Dr</text>
</g>
<g font-family="'Liberation Sans',sans-serif" fill="#333">
<text x="1932" y="1191" font-size="26" textLength="88" lengthAdjust="spacingAndGlyphs">8 floors</text>
<text x="2104" y="1235.3" font-size="26" textLength="88" lengthAdjust="spacingAndGlyphs">8 floors</text>
</g>
<g font-family="'Liberation Serif',serif" font-style="italic" fill="#1a1a1a" transform="translate(0,1332) skewX(-14) translate(0,-1332)">
<text x="1747" y="1334" font-size="78" fill="#fff" stroke="#1a1a1a" stroke-width="1.5">O</text><text x="1787" y="1331.5" font-size="36" textLength="80" lengthAdjust="spacingAndGlyphs">cean</text>
<text x="1882" y="1334" font-size="78" fill="#fff" stroke="#1a1a1a" stroke-width="1.5">G</text><text x="1928" y="1331.5" font-size="36" textLength="96" lengthAdjust="spacingAndGlyphs">rande</text>
<text x="1796" y="1301" font-size="23" textLength="77" lengthAdjust="spacingAndGlyphs">Jupiter</text>
</g>
<g id="compass">
<circle cx="2376.3" cy="705.9" r="26.4" fill="none" stroke="#111" stroke-width="4.6"/>
<path d="M2376.3,685L2386.8,722.5Q2376.3,715.5 2366.2,722.5Z" fill="#111"/>
<g font-family="'Liberation Sans',sans-serif" font-size="31" fill="#111" stroke="#111" stroke-width="0.7" text-anchor="middle">
<text x="2375.7" y="661.2">N</text><text x="2376" y="772.8">S</text><text x="2321" y="716">W</text><text x="2431.6" y="715.1">E</text>
</g></g>
<defs><linearGradient id="og" x1="0" x2="1" y1="0" y2="0"><stop offset="0" stop-color="#bfe0ee"/><stop offset="0.35" stop-color="#7bbbe0"/><stop offset="0.6" stop-color="#4a9fd4"/><stop offset="0.85" stop-color="#1e80c6"/><stop offset="1" stop-color="#2b6f9f"/></linearGradient></defs>
<rect x="2517" y="470" width="26.3" height="457.5" fill="url(#og)"/>
<text transform="translate(2500,745.5) rotate(-90)" font-family="'Liberation Sans',sans-serif" font-size="27" fill="#d42020" textLength="90" lengthAdjust="spacingAndGlyphs">BEACH</text>
<text transform="translate(2580.5,823.6) rotate(-90)" font-family="'Liberation Sans',sans-serif" font-size="27.5" fill="#3d8fc8" textLength="231" lengthAdjust="spacingAndGlyphs">ATLANTIC OCEAN</text>
<g font-family="'Liberation Sans',sans-serif" fill="#444" font-size="26.5">
<text x="72" y="1455" textLength="268" lengthAdjust="spacing">Copyright &#169; 2011 - 2012</text>
<text x="1148.5" y="1461.3" textLength="807" lengthAdjust="spacing">For Personal and Professional use only.  Not to be published or reproduced.</text>
<text x="2075.5" y="1460.2" textLength="445" lengthAdjust="spacing">Not to scale.  All dimensions approximate.</text>
</g>
<g id="ren">
<g fill="none" stroke="#14264f" stroke-width="3.2">
<ellipse cx="0" cy="0" rx="6.5" ry="15.5" transform="translate(485,1419) rotate(-12)"/>
<ellipse cx="0" cy="0" rx="21" ry="7.5" transform="translate(489,1433) rotate(-24)"/>
</g>
<text x="490" y="1453.8" font-family="'Liberation Sans',sans-serif" font-size="27" fill="#1a2a4a" stroke="#fff" stroke-width="0.9" textLength="188" lengthAdjust="spacingAndGlyphs">renaissance</text>
<text x="490" y="1464.2" font-family="'Liberation Sans',sans-serif" font-size="8.2" fill="#999" letter-spacing="1.6" textLength="188" lengthAdjust="spacingAndGlyphs">TRADING CORPORATION</text>
</g>
<g id="mcp">
<g fill="none" stroke="#c6d0df" stroke-width="1">
<rect x="872.5" y="1442.7" width="16.1" height="18.8"/>
<rect x="888.6" y="1439" width="19.4" height="22.5"/>
<rect x="908" y="1434.4" width="19.4" height="27.1"/>
<rect x="927.4" y="1418.9" width="13.9" height="42.6"/>
<rect x="946.8" y="1407.2" width="14.4" height="54.3"/>
<rect x="955" y="1427" width="15.4" height="34.5"/>
<rect x="970.4" y="1419.6" width="16.6" height="41.9"/>
<rect x="984" y="1437.7" width="18.0" height="23.8"/>
<rect x="1014.7" y="1428.5" width="18.1" height="33.0"/>
<rect x="1032.8" y="1411.4" width="7.7" height="50.1"/>
<rect x="1037" y="1419.7" width="18.0" height="41.8"/>
<rect x="1055" y="1434.4" width="18.0" height="27.1"/>
<rect x="1073" y="1442" width="15.2" height="19.5"/>
<rect x="1089.6" y="1437.7" width="18.1" height="23.8"/>
<rect x="1002" y="1444" width="12.7" height="17.5"/>
</g>
<text x="897" y="1460.4" font-family="'DejaVu Sans',sans-serif" font-weight="bold" font-size="20.2" fill="#2a3a8c" textLength="183.5" lengthAdjust="spacingAndGlyphs">myCondoPlans</text>
</g>
</svg>
</body></html>
